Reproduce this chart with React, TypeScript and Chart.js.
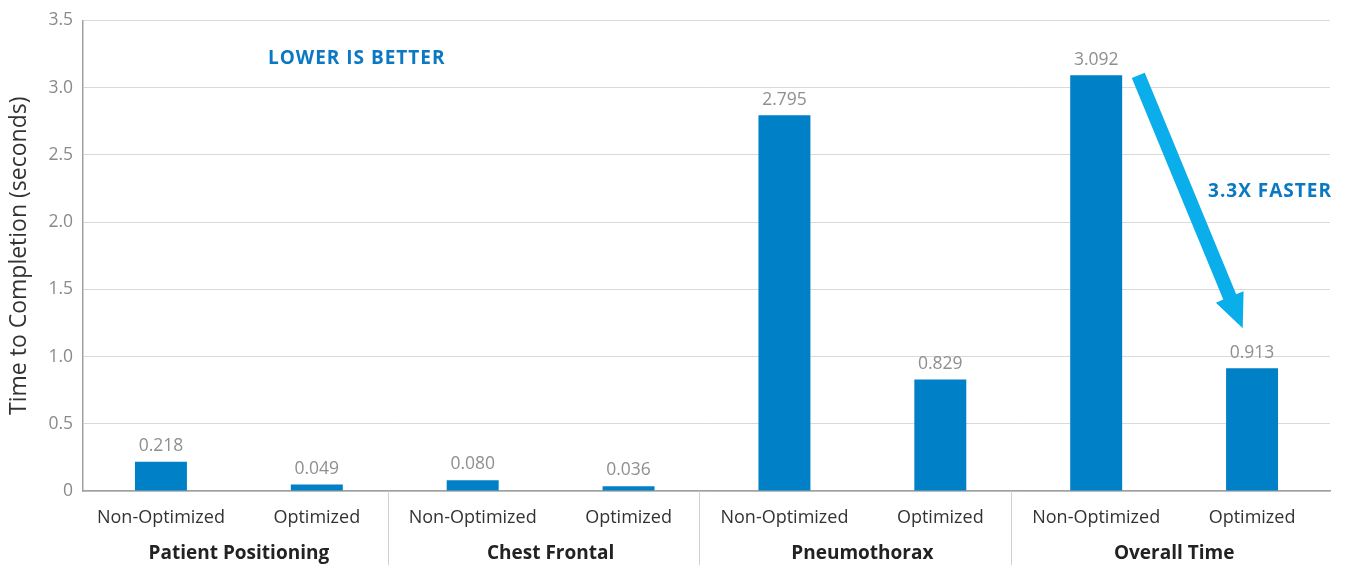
import React, { useEffect, useRef } from "react";
import { Chart, registerables } from "chart.js";

Chart.register(...registerables);

const categories = [
  "Non-Optimized", "Optimized",
  "Non-Optimized", "Optimized",
  "Non-Optimized", "Optimized",
  "Non-Optimized", "Optimized",
];
const groups = ["Patient Positioning", "Chest Frontal", "Pneumothorax", "Overall Time"];
const times = [0.218, 0.049, 0.080, 0.036, 2.795, 0.829, 3.092, 0.913];
const yTicks = [0, 0.5, 1.0, 1.5, 2.0, 2.5, 3.0, 3.5];
const noteText = "LOWER IS BETTER";
const speedupText = "3.3X FASTER";
// annotation anchors in data space [category index, value]
const notePos = [1.256, 3.22];
const speedupPos = [7.115, 2.227];
const arrowFrom = [6.27, 3.092];
const arrowTo = [6.94, 1.21];

const FONT = "'Open Sans', 'Noto Sans', sans-serif";

const overlayPlugin = {
  id: "overlay",
  afterDatasetsDraw(chart: any) {
    const { ctx, scales, chartArea } = chart;
    const x = scales.x;
    const y = scales.y;
    const w = x.getPixelForValue(1) - x.getPixelForValue(0);
    ctx.save();

    // value labels
    const meta = chart.getDatasetMeta(0);
    ctx.font = `17.5px ${FONT}`;
    ctx.fillStyle = "#8f8f8f";
    ctx.textAlign = "center";
    ctx.textBaseline = "bottom";
    meta.data.forEach((bar: any, i: number) => {
      ctx.fillText(times[i].toFixed(3), bar.x, bar.y - 7);
    });

    // group separators below the axis
    ctx.strokeStyle = "#d0d0d0";
    ctx.lineWidth = 1;
    for (let g = 1; g < groups.length; g++) {
      const px = Math.round(x.getPixelForValue(g * 2 - 0.5) - 0.045 * w) + 0.5;
      ctx.beginPath();
      ctx.moveTo(px, chartArea.bottom);
      ctx.lineTo(px, chart.height);
      ctx.stroke();
    }

    // group labels
    ctx.font = `bold 19px ${FONT}`;
    ctx.fillStyle = "#222222";
    ctx.textBaseline = "middle";
    groups.forEach((g, i) => {
      const cx = (x.getPixelForValue(i * 2) + x.getPixelForValue(i * 2 + 1)) / 2;
      ctx.fillText(g, cx, chartArea.bottom + 63);
    });

    // annotation texts
    ctx.font = `bold 19px ${FONT}`;
    (ctx as any).letterSpacing = "1px";
    ctx.fillStyle = "#0a78c2";
    ctx.fillText(noteText, x.getPixelForValue(notePos[0]), y.getPixelForValue(notePos[1]));
    ctx.fillText(speedupText, x.getPixelForValue(speedupPos[0]), y.getPixelForValue(speedupPos[1]));
    (ctx as any).letterSpacing = "0px";

    // arrow
    const x1 = x.getPixelForValue(arrowFrom[0]);
    const y1 = y.getPixelForValue(arrowFrom[1]);
    const x2 = x.getPixelForValue(arrowTo[0]);
    const y2 = y.getPixelForValue(arrowTo[1]);
    const ang = Math.atan2(y2 - y1, x2 - x1);
    const len = Math.hypot(x2 - x1, y2 - y1);
    const headLen = 34;
    const headHalf = 15;
    const shaftHalf = 7;
    ctx.translate(x1, y1);
    ctx.rotate(ang);
    ctx.fillStyle = "#0aaeea";
    ctx.beginPath();
    ctx.moveTo(0, -shaftHalf);
    ctx.lineTo(len - headLen, -shaftHalf);
    ctx.lineTo(len - headLen, -headHalf);
    ctx.lineTo(len, 0);
    ctx.lineTo(len - headLen, headHalf);
    ctx.lineTo(len - headLen, shaftHalf);
    ctx.lineTo(0, shaftHalf);
    ctx.closePath();
    ctx.fill();

    ctx.restore();
  },
};

export default function App() {
  const ref = useRef<HTMLCanvasElement | null>(null);

  useEffect(() => {
    if (!ref.current) return;
    const chart = new Chart(ref.current, {
      type: "bar",
      data: {
        labels: categories,
        datasets: [
          {
            data: times,
            backgroundColor: "#0080c6",
            borderWidth: 0,
            barPercentage: 0.6667,
            categoryPercentage: 0.5,
          },
        ],
      },
      options: {
        animation: false,
        responsive: true,
        maintainAspectRatio: false,
        layout: { padding: { top: 18, right: 20, left: 0, bottom: 0 } },
        plugins: { legend: { display: false }, tooltip: { enabled: false } },
        scales: {
          x: {
            grid: { display: false, drawTicks: false },
            border: { display: true, color: "#a0a0a0", width: 1.5 },
            ticks: {
              color: "#333333",
              font: { family: FONT, size: 18 },
              padding: 16,
              maxRotation: 0,
              autoSkip: false,
            },
            afterFit(scale: any) {
              scale.height = 74;
            },
          },
          y: {
            min: 0,
            max: 3.5,
            afterBuildTicks(scale: any) {
              scale.ticks = yTicks.map((v) => ({ value: v }));
            },
            grid: { color: "#d9d9d9", lineWidth: 1, drawTicks: false },
            border: { display: true, color: "#a0a0a0", width: 1.5 },
            ticks: {
              color: "#8a8a8a",
              font: { family: FONT, size: 17.5 },
              padding: 10,
              callback: (v: any) => (Number(v) === 0 ? "0" : Number(v).toFixed(1)),
            },
            title: {
              display: true,
              text: "Time to Completion (seconds)",
              color: "#333333",
              font: { family: FONT, size: 23 },
              padding: { top: 6, bottom: 2 },
            },
            afterFit(scale: any) {
              scale.width = 83;
            },
          },
        },
      },
      plugins: [overlayPlugin],
    });
    return () => chart.destroy();
  }, []);

  return (
    <div style={{ position: "fixed", left: 0, top: 0, width: 1350, height: 565, background: "#fff" }}>
      <canvas ref={ref} />
    </div>
  );
}
